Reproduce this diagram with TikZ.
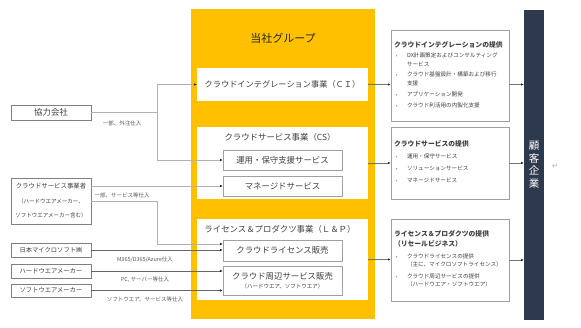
\documentclass[tikz,border=0pt]{standalone}
\usepackage{fontspec}
\setmainfont{Noto Sans CJK JP}
\newfontfamily\symfont{DejaVu Sans}
\usetikzlibrary{arrows.meta,calc}

\definecolor{grpyellow}{HTML}{FFC000}
\definecolor{custnavy}{HTML}{2D394D}
\definecolor{txtgray}{HTML}{404040}
\definecolor{boxgray}{HTML}{A0A0A0}

% bullet line, wrapped lines kept under the text
\newcommand{\bul}[1]{\par\noindent
  \makebox[13pt][l]{\hspace{2pt}\fontsize{4}{4}\selectfont •}\parbox[t]{99pt}{#1\strut}}
\newcommand{\fsz}[1]{\fontsize{#1}{1.2\dimexpr#1pt\relax}\selectfont}

\begin{document}
\begin{tikzpicture}[x=1pt,y=-1pt,
  every node/.style={text=txtgray,inner sep=0pt},
  unit/.style={fill=white,minimum width=171pt},
  sub/.style={draw=boxgray,line width=0.5pt,fill=white,minimum width=119pt,align=center,font=\fsz{8.4}},
  supp/.style={draw=black!50,line width=0.6pt,fill=white,minimum width=80pt,align=center},
  offer/.style={draw=boxgray,line width=0.8pt,fill=white,minimum width=118pt,text width=112pt,
    inner xsep=3pt,align=left,font=\fontsize{5.6}{8.5}\selectfont},
  lbl/.style={text=black!65,font=\fsz{5.5}},
  tip/.style={-{Latex[length=2.6pt,width=2.4pt,color=black!85]}},
  feedlt/.style={draw=black!30,line width=0.5pt},
  feed/.style={draw=black!60,line width=0.6pt},
  flow/.style={draw=black!55,line width=0.6pt,tip}]
  \useasboundingbox (0,0) rectangle (581,328);

  % our group
  \node[fill=grpyellow,minimum width=184pt,minimum height=310pt] (grp) at (283,164) {};
  \node[text=black!85,font=\fsz{11}] (grpt) at (283,38) {当社グループ};
  \node[unit,minimum height=33pt,font=\fsz{8.2}] (ci) at (282.5,84.5) {クラウドインテグレーション事業（ＣＩ）};
  \node[unit,minimum height=72pt] (cs) at (282.5,163) {};
  \node[font=\fsz{8.4}] (cst) at (280,137) {クラウドサービス事業（CS）};
  \node[sub,minimum height=20pt] (ops) at (282.5,160) {運用・保守支援サービス};
  \node[sub,minimum height=20pt] (mng) at (282.5,186) {マネージドサービス};
  \node[unit,minimum height=81pt] (lp) at (282.5,259.5) {};
  \node[font=\fsz{8.4}] (lpt) at (280,229) {ライセンス＆プロダクツ事業（Ｌ＆Ｐ）};
  \node[sub,minimum height=21pt] (lic) at (282.5,250.5) {クラウドライセンス販売};
  \node[sub,minimum height=29pt] (per) at (282.5,280.5)
    {{\fontsize{8.4}{13}\selectfont クラウド周辺サービス販売}\\[-1pt]{\fsz{5.5}（ハードウエア、ソフトウエア）}};

  % suppliers
  \node[supp,minimum height=15pt,font=\fsz{8.4}] (kyo) at (51,112.5) {協力会社};
  \node[supp,minimum height=46pt,font=\fontsize{5.5}{14.5}\selectfont] (csp) at (51,201)
    {{\fontsize{6.4}{14.5}\selectfont クラウドサービス事業者}\\（ハードウエアメーカー、\\ソフトウエアメーカー含む）};
  \foreach \nm/\yy/\hh/\lb in {ms/250/14/{日本マイクロソフト㈱},hw/271/14/{ハードウエアメーカー},
                               sw/290.5/13/{ソフトウエアメーカー}}
    \node[supp,minimum height=\hh pt,font=\fsz{6.3}] (\nm) at (51,\yy) {\lb};

  % offerings and customers
  \node[offer,minimum height=91pt] (o1) at (450,75.5) {%
    {\bfseries\fontsize{6.8}{10}\selectfont クラウドインテグレーションの提供\par}\parskip=2pt
    \bul{DX計画策定およびコンサルティング\\サービス}
    \bul{クラウド基盤設計・構築および移行\\支援}
    \bul{アプリケーション開発}
    \bul{クラウド利活用の内製化支援}};
  \node[offer,minimum height=72pt] (o2) at (450,163) {%
    {\bfseries\fontsize{6.8}{11}\selectfont クラウドサービスの提供\par}\parskip=3.5pt
    \bul{運用・保守サービス}
    \bul{ソリューションサービス}
    \bul{マネージドサービス}};
  \node[offer,minimum height=82pt] (o3) at (450,260) {%
    {\bfseries\fontsize{6.8}{10}\selectfont ライセンス＆プロダクツの提供\\（リセールビジネス）\par}\parskip=3pt
    \bul{クラウドライセンスの提供\\（主に、マイクロソフトライセンス）}
    \bul{クラウド周辺サービスの提供\\（ハードウエア・ソフトウエア）}};
  \node[fill=custnavy,text=white,minimum width=20pt,minimum height=310pt,align=center,
    font=\fontsize{10.5}{12.5}\selectfont] (cust) at (534,165) {顧\\客\\企\\業};
  \node[text=black!35,font=\symfont\fsz{7}] (ret) at (555,166) {↵};

  % purchase lines
  \coordinate (kj) at (157,112.5);
  \coordinate (licu) at ($(lic.west)+(0,-6.5)$);
  \draw[feedlt] (kyo.east) -- (kj);
  \draw[feedlt,tip] (kj) |- (ci.west);
  \draw[feedlt,tip] (kj) |- (ops.west);
  \draw[feedlt,tip] (csp.east |- mng.west) -- (mng.west);
  \draw[feedlt,tip] (csp.east) -- (csp.east -| kj) |- (licu);
  \draw[feed,tip] (ms.east) -- (ms.east -| lic.west);
  \draw[feed,tip] (hw.east) -- (hw.east -| per.west);
  \draw[feed,tip] (sw.east) -- (sw.east -| per.west);
  \node[lbl] (lkyo) at (122,123) {一部、外注仕入};
  \node[lbl] (lcsp) at (122,195) {一部、サービス等仕入};
  \node[lbl] (lms) at (145,260) {M365/D365/Azure仕入};
  \node[lbl] (lhw) at (145,280) {PC, サーバー等仕入};
  \node[lbl] (lsw) at (145,299) {ソフトウエア、サービス等仕入};

  % offering lines
  \draw[flow] (ci.east) -- (ci.east -| o1.west);
  \draw[flow] (cs.east) -- (cs.east -| o2.west);
  \draw[flow] (lp.east) -- (lp.east -| o3.west);
  \draw[flow] (o1.east |- ci.east) -- (cust.west |- ci.east);
  \draw[flow] (o2.east) -- (o2.east -| cust.west);
  \draw[flow] (o3.east) -- (o3.east -| cust.west);
\end{tikzpicture}
\end{document}
